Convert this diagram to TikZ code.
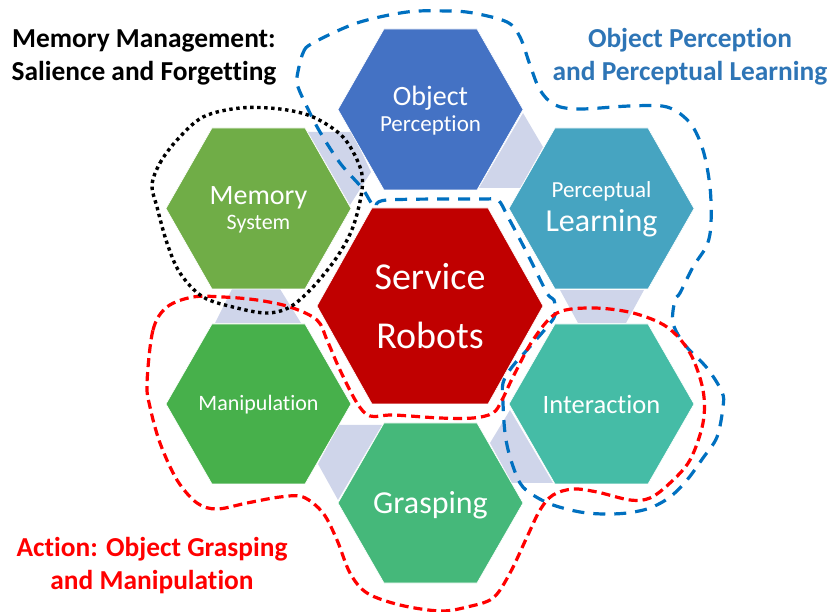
\documentclass[tikz,border=0pt]{standalone}
\usepackage{fontspec}
\setmainfont[Ligatures=NoCommon]{Carlito}
\usetikzlibrary{calc}
\definecolor{linkfill}{HTML}{CFD5EA}
\definecolor{cobj}{HTML}{4472C4}
\definecolor{cmem}{HTML}{70AD47}
\definecolor{cper}{HTML}{46A4C1}
\definecolor{cser}{HTML}{C00000}
\definecolor{cman}{HTML}{47B04B}
\definecolor{cint}{HTML}{45BCA6}
\definecolor{cgra}{HTML}{45B87A}
\definecolor{regblue}{HTML}{0070C0}
\definecolor{titleblue}{HTML}{2E75B6}
\newcommand{\fs}[1]{\fontsize{#1}{#1}\selectfont}
\tikzset{
  linkshape/.style={fill=linkfill,draw=none},
  hexshape/.style={draw=white,line width=0.6pt},
  hextext/.style={text=white,align=center,inner sep=0pt},
  regionblue/.style={draw=regblue,line width=3.2pt,dash pattern=on 12pt off 9pt},
  regionred/.style={draw=red,line width=3.2pt,dash pattern=on 9pt off 5pt},
  regionblack/.style={draw=black,line width=3.4pt,dash pattern=on 3.4pt off 3.6pt},
  titletext/.style={font=\bfseries\fs{27.4},align=center,inner sep=0pt}
}
% name, cx, cy, half width, half top width, half height, colour, text, text dy
\newcommand{\hexa}[9]{%
  \path[hexshape,fill=#7] (#2-#4,#3) -- (#2-#5,#3-#6) -- (#2+#5,#3-#6) -- (#2+#4,#3) -- (#2+#5,#3+#6) -- (#2-#5,#3+#6) -- cycle;
  \node[hextext] (#1) at (#2,#3+#9) {#8};
}
\begin{document}
\begin{tikzpicture}[x=1pt,y=-1pt]
\useasboundingbox (0,0) rectangle (831,612);
% link shapes
\path[linkshape] (308,132) -- (352,132) -- (371,172) -- (350,205) -- cycle;
\path[linkshape] (523,113) -- (543,147) -- (520,188) -- (479,188) -- cycle;
\path[linkshape] (560,290) -- (644,290) -- (626,323) -- (578,323) -- cycle;
\path[linkshape] (232,289) -- (280,289) -- (301,323) -- (215,323) -- cycle;
\path[linkshape] (339,425) -- (382,425) -- (338,500) -- (318,464) -- cycle;
\path[linkshape] (510,410) -- (553,483) -- (512,483) -- (490,443) -- cycle;
% hexagons
\hexa{object}{430.5}{109.5}{92.5}{46.5}{80.5}{cobj}{\fs{28}Object\\[5pt]{\fs{23}Perception}}{1}
\hexa{memory}{258.5}{208.5}{92.5}{46.5}{80.5}{cmem}{\fs{28}Memory\\[5pt]{\fs{22}System}}{1}
\hexa{percept}{601.5}{208.5}{92.5}{46.5}{80.5}{cper}{\fs{23}Perceptual\\[7pt]{\fs{32}Learning}}{1}
\hexa{service}{430}{306}{113}{58}{98}{cser}{\fs{38}Service\\[31pt]\fs{38}Robots}{0}
\hexa{manip}{258.5}{404}{92.5}{46.5}{80}{cman}{\fs{22}Manipulation}{1}
\hexa{interact}{601.5}{404}{92.5}{46.5}{80}{cint}{\fs{26.5}Interaction}{0}
\hexa{grasp}{430.5}{503}{92.5}{46.5}{80}{cgra}{\fs{32}Grasping}{2}
% regions
\draw[regionblue] plot[smooth cycle,tension=0.55] coordinates {
(297,77)(303,53)(313,43)(357,23)(407,12)(447,11)(473,13)(507,22)(520,37)(530,65)(540,90)(555,105)(580,109)(630,106)(667,107)(690,123)(703,150)(710,187)(711,223)(707,245)(693,267)(680,293)(675,300)(673,323)(685,345)(707,368)(722,392)(723,407)(717,437)(703,458)(687,480)(670,497)(650,508)(627,513)(603,514)(580,512)(553,505)(533,495)(520,483)(510,457)(505,433)(503,403)(503,383)(512,367)(527,350)(547,327)(555,315)(554,300)(547,293)(527,253)(508,217)(498,200)(483,199)(387,200)(375,207)(362,188)(340,163)(320,132)(307,107)(298,87)};
\draw[regionred] plot[smooth cycle,tension=0.55] coordinates {
(147,383)(153,330)(167,307)(193,297)(223,297)(257,300)(290,307)(317,320)(327,340)(340,370)(357,403)(370,416)(393,415)(440,418)(473,418)(493,413)(502,400)(513,377)(533,340)(557,313)(593,308)(633,313)(667,327)(690,353)(703,390)(703,423)(690,460)(670,483)(650,498)(630,500)(597,492)(573,489)(553,495)(540,510)(527,537)(510,573)(493,598)(467,607)(440,611)(400,605)(367,593)(350,573)(337,540)(323,513)(303,497)(280,497)(247,503)(217,509)(197,503)(177,480)(160,443)(150,407)};
\draw[regionblack] plot[smooth cycle,tension=0.55] coordinates {
(152,185)(160,163)(177,140)(203,117)(240,108)(280,109)(313,117)(343,137)(360,167)(362,190)(353,227)(337,257)(313,287)(290,307)(267,313)(237,308)(203,297)(180,273)(167,243)(157,207)};
% titles
\node[titletext,text=black] (memtitle) at (144,57) {Memory Management:\\[5.6pt]Salience and Forgetting};
\node[titletext,text=titleblue] (pertitle) at (690,57) {Object Perception\\[5.6pt]and Perceptual Learning};
\node[titletext,text=red] (acttitle) at (152,566) {Action: Object Grasping\\[5.6pt]and Manipulation};
\end{tikzpicture}
\end{document}
